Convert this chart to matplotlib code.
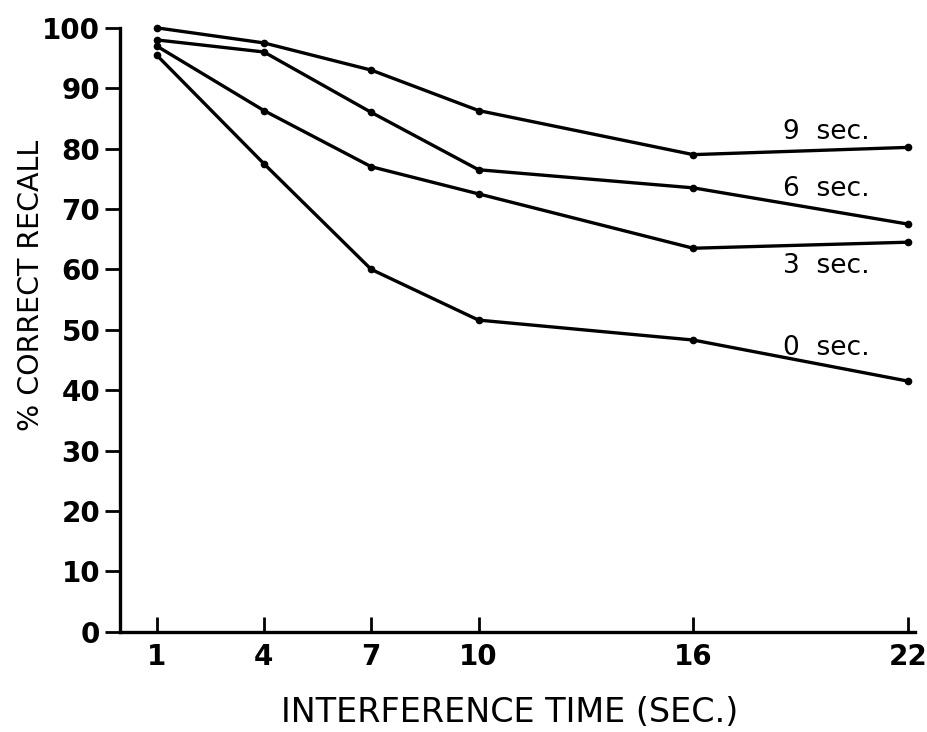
import matplotlib.pyplot as plt

# interference time (sec) on the x axis
times = [1, 4, 7, 10, 16, 22]

# % correct recall for each rehearsal interval
recall_9 = [100, 97.5, 93, 86.3, 79, 80.2]
recall_6 = [98, 96, 86, 76.5, 73.5, 67.5]
recall_3 = [97, 86.3, 77, 72.5, 63.5, 64.5]
recall_0 = [95.5, 77.5, 60, 51.6, 48.3, 41.5]

series = [("9  sec.", recall_9, 82.8),
          ("6  sec.", recall_6, 73.3),
          ("3  sec.", recall_3, 60.5),
          ("0  sec.", recall_0, 47.0)]

yticks = [0, 10, 20, 30, 40, 50, 60, 70, 80, 90, 100]

fig = plt.figure(figsize=(9.28, 7.32), dpi=100)
ax = fig.add_axes([0.129, 0.137, 0.857, 0.825])

for label, vals, ly in series:
    ax.plot(times, vals, color='black', linewidth=2.4, marker='o', markersize=4.5,
            clip_on=False)
    ax.text(18.5, ly, label, fontsize=19, va='center', ha='left')

ax.set_xlim(-0.03, 22.2)
ax.set_ylim(0, 100)

ax.spines['top'].set_visible(False)
ax.spines['right'].set_visible(False)
for s in ['left', 'bottom']:
    ax.spines[s].set_linewidth(2.4)

ax.set_xticks(times)
ax.set_xticklabels([str(t) for t in times])
ax.set_yticks(yticks)
ax.tick_params(axis='x', direction='in', length=11, width=2, labelsize=20, pad=8)
ax.tick_params(axis='y', direction='out', length=11, width=2, labelsize=20, pad=3)
for lab in ax.get_xticklabels() + ax.get_yticklabels():
    lab.set_fontweight('bold')

ax.set_xlabel('INTERFERENCE TIME (SEC.)', fontsize=24)
ax.xaxis.set_label_coords(0.49, -0.107)
ax.set_ylabel('% CORRECT RECALL', fontsize=20.5)
ax.yaxis.set_label_coords(-0.094, 0.574)

plt.savefig('out.png', dpi=100)
